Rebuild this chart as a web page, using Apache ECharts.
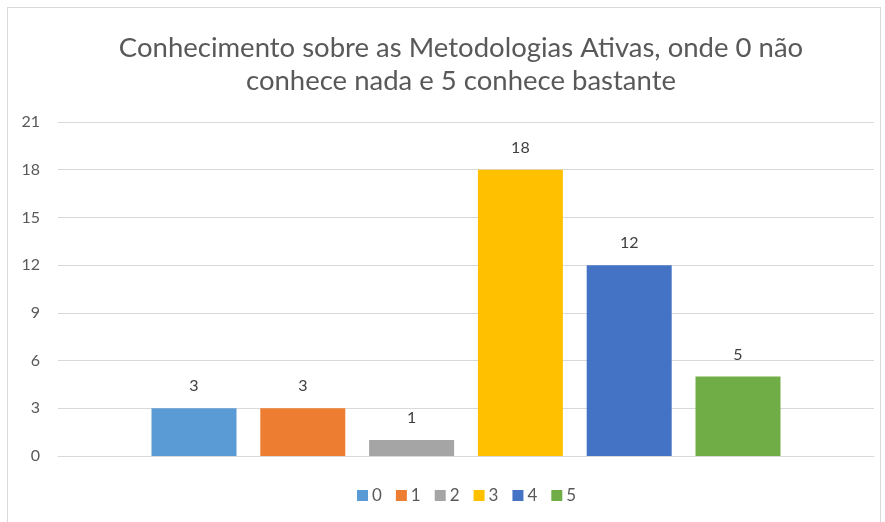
<!DOCTYPE html>
<html>
<head>
<meta charset="utf-8">
<script src="https://cdn.jsdelivr.net/npm/echarts@6/dist/echarts.min.js"></script>
<style>
  html, body { margin: 0; padding: 0; background: #fff; }
  #frame { position: absolute; left: 7px; top: 7px; width: 874px; height: 520px; border: 1px solid #d9d9d9; box-sizing: border-box; }
  #chart { position: absolute; left: 0; top: 0; width: 885px; height: 522px; }
</style>
</head>
<body>
<div id="frame"></div>
<div id="chart"></div>
<script>
var titleText = 'Conhecimento sobre as Metodologias Ativas, onde 0 não\nconhece nada e 5 conhece bastante';
var levels = ['0', '1', '2', '3', '4', '5'];
var counts = [3, 3, 1, 18, 12, 5];
var colors = ['#5b9bd5', '#ed7d31', '#a5a5a5', '#ffc000', '#4472c4', '#70ad47'];
var yTicks = { min: 0, max: 21, interval: 3 };

var series = levels.map(function (name, i) {
    return {
        name: name,
        type: 'bar',
        data: [counts[i]],
        barWidth: 85,
        barGap: '28%',
        itemStyle: { color: colors[i] },
        label: {
            show: true,
            position: 'top',
            distance: 14,
            color: '#404040',
            fontSize: 16,
            fontFamily: 'Lato'
        }
    };
});

var option = {
    backgroundColor: 'transparent',
    animation: false,
    title: {
        text: titleText,
        left: 456,
        textAlign: 'center',
        top: 27,
        textStyle: {
            fontFamily: 'Lato',
            fontSize: 27.5,
            fontWeight: 'normal',
            color: '#595959',
            lineHeight: 33
        }
    },
    legend: {
        bottom: 13,
        left: 352,
        itemWidth: 11,
        itemHeight: 11,
        itemGap: 14,
        icon: 'rect',
        textStyle: { fontFamily: 'Lato', fontSize: 17, color: '#595959', padding: [0, 0, 0, -1] },
        data: levels
    },
    grid: { left: 58, right: 11, top: 122, bottom: 66 },
    xAxis: {
        type: 'category',
        data: [''],
        axisLine: { lineStyle: { color: '#d9d9d9' } },
        axisTick: { show: false },
        axisLabel: { show: false }
    },
    yAxis: {
        type: 'value',
        min: yTicks.min,
        max: yTicks.max,
        interval: yTicks.interval,
        axisLine: { show: false },
        axisTick: { show: false },
        axisLabel: { fontFamily: 'Lato', fontSize: 16, color: '#595959', margin: 18 },
        splitLine: { lineStyle: { color: '#d9d9d9' } }
    },
    series: series
};

echarts.init(document.getElementById('chart')).setOption(option);
</script>
</body>
</html>
